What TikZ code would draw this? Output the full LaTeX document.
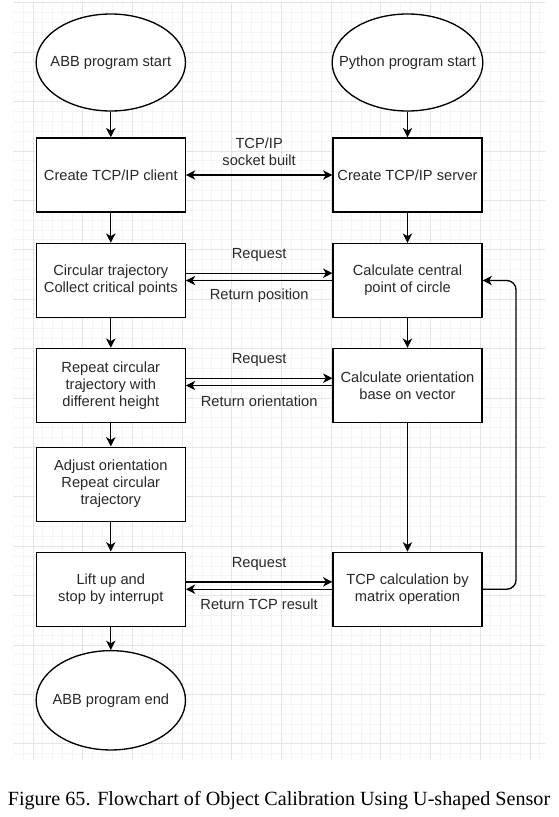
\documentclass[tikz,border=0pt]{standalone}
\usepackage{fontspec}
\setmainfont{Liberation Sans}
\newfontfamily\capfont{Liberation Serif}
\usetikzlibrary{shapes.geometric,arrows.meta,calc}
\definecolor{txt}{RGB}{40,40,40}
\definecolor{gmin}{RGB}{244,244,244}
\definecolor{gmaj}{RGB}{228,228,228}
\tikzset{
  fctip/.tip={Stealth[length=7pt,width=7pt,inset=2pt]},
  boxfont/.style={text=txt, font=\fontsize{11}{12.75}\selectfont},
  proc/.style={boxfont, draw=black, line width=1pt, fill=white, rectangle,
    minimum width=111.6pt, minimum height=55.5pt, inner sep=0pt, align=center},
  term/.style={boxfont, draw=black, line width=1pt, fill=white, ellipse,
    minimum width=112pt, minimum height=72.75pt, inner sep=0pt, align=center},
  arr/.style={draw=black, line width=1pt, -fctip},
  darr/.style={draw=black, line width=1pt, fctip-fctip},
  lbl/.style={boxfont, align=center, inner sep=0pt},
  minorgrid/.style={draw=gmin, line width=0.7pt},
  majorgrid/.style={draw=gmaj, line width=0.7pt}
}
\begin{document}
\begin{tikzpicture}[x=0.75pt, y=-0.75pt]
\useasboundingbox (0,0) rectangle (558,817);
\fill[white] (0,0) rectangle (558,817);
% background grid
\begin{scope}
  \clip (13.6,2.5) rectangle (545,759.3);
  \foreach \i in {0,...,54} \draw[minorgrid] ({13.12+9.94*\i},0) -- ({13.12+9.94*\i},770);
  \foreach \j in {0,...,77} \draw[minorgrid] (0,{2.8+9.88*\j}) -- (560,{2.8+9.88*\j});
  \foreach \i in {0,...,10} \draw[majorgrid] ({33+49.7*\i},0) -- ({33+49.7*\i},770);
  \foreach \j in {0,...,15} \draw[majorgrid] (0,{2.8+49.4*\j}) -- (560,{2.8+49.4*\j});
\end{scope}
% nodes
\node[term] (s1) at (110.8,62.5) {\makebox[0pt]{ABB program start}};
\node[term, minimum width=113pt] (s2) at (407.5,62.5) {\makebox[0pt]{Python program start}};
\node[proc] (b1) at (110.8,175) {Create TCP/IP client};
\node[proc] (b2) at (407.5,175) {Create TCP/IP server};
\node[proc] (b3) at (110.8,280.5) {Circular trajectory\\Collect critical points};
\node[proc] (b4) at (407.5,280.5) {Calculate central\\point of circle};
\node[proc] (b5) at (110.8,385.5) {Repeat circular\\trajectory with\\different height};
\node[proc] (b6) at (407.5,385.5) {Calculate orientation\\base on vector};
\node[proc] (b7) at (110.8,484.2) {Adjust orientation\\Repeat circular\\trajectory};
\node[proc] (b8) at (110.8,589.2) {Lift up and\\stop by interrupt};
\node[proc] (b9) at (407.5,589.2) {TCP calculation by\\matrix operation};
\node[term, minimum height=74.5pt] (e1) at (110.8,700.3) {\makebox[0pt]{ABB program end}};
% vertical flow
\draw[arr] (s1) -- (b1);
\draw[arr] (b1) -- (b3);
\draw[arr] (b3) -- (b5);
\draw[arr] (b5) -- (b7);
\draw[arr] (b7) -- (b8);
\draw[arr] (b8) -- (e1);
\draw[arr] (s2) -- (b2);
\draw[arr] (b2) -- (b4);
\draw[arr] (b4) -- (b6);
\draw[arr] (b6) -- (b9);
% horizontal exchanges
\draw[darr] (b1) -- node[lbl, yshift=17.6pt] {TCP/IP\\socket built} (b2);
\draw[arr] ([yshift=5.5pt]b3.east) -- node[lbl, yshift=13.5pt] {Request} ([yshift=5.5pt]b4.west);
\draw[arr] (b4) -- node[lbl, yshift=-11.6pt] {Return position} (b3);
\draw[arr] ([yshift=5.5pt]b5.east) -- node[lbl, yshift=13.5pt] {Request} ([yshift=5.5pt]b6.west);
\draw[arr] (b6) -- node[lbl, yshift=-11.6pt] {Return orientation} (b5);
\draw[arr] ([yshift=5.5pt]b8.east) -- node[lbl, yshift=13.5pt] {Request} ([yshift=5.5pt]b9.west);
\draw[arr] (b9) -- node[lbl, yshift=-11.6pt] {Return TCP result} (b8);
% loop back
\draw[arr, rounded corners=7pt] (b9.east) -- ++(33.5,0) |- (b4.east);
% caption
\node[font=\capfont\fontsize{15.1}{18}\selectfont, text=black, anchor=base, inner sep=0pt] (cap) at (279,805) {Figure 65. Flowchart of Object Calibration Using U-shaped Sensor};
\end{tikzpicture}
\end{document}
